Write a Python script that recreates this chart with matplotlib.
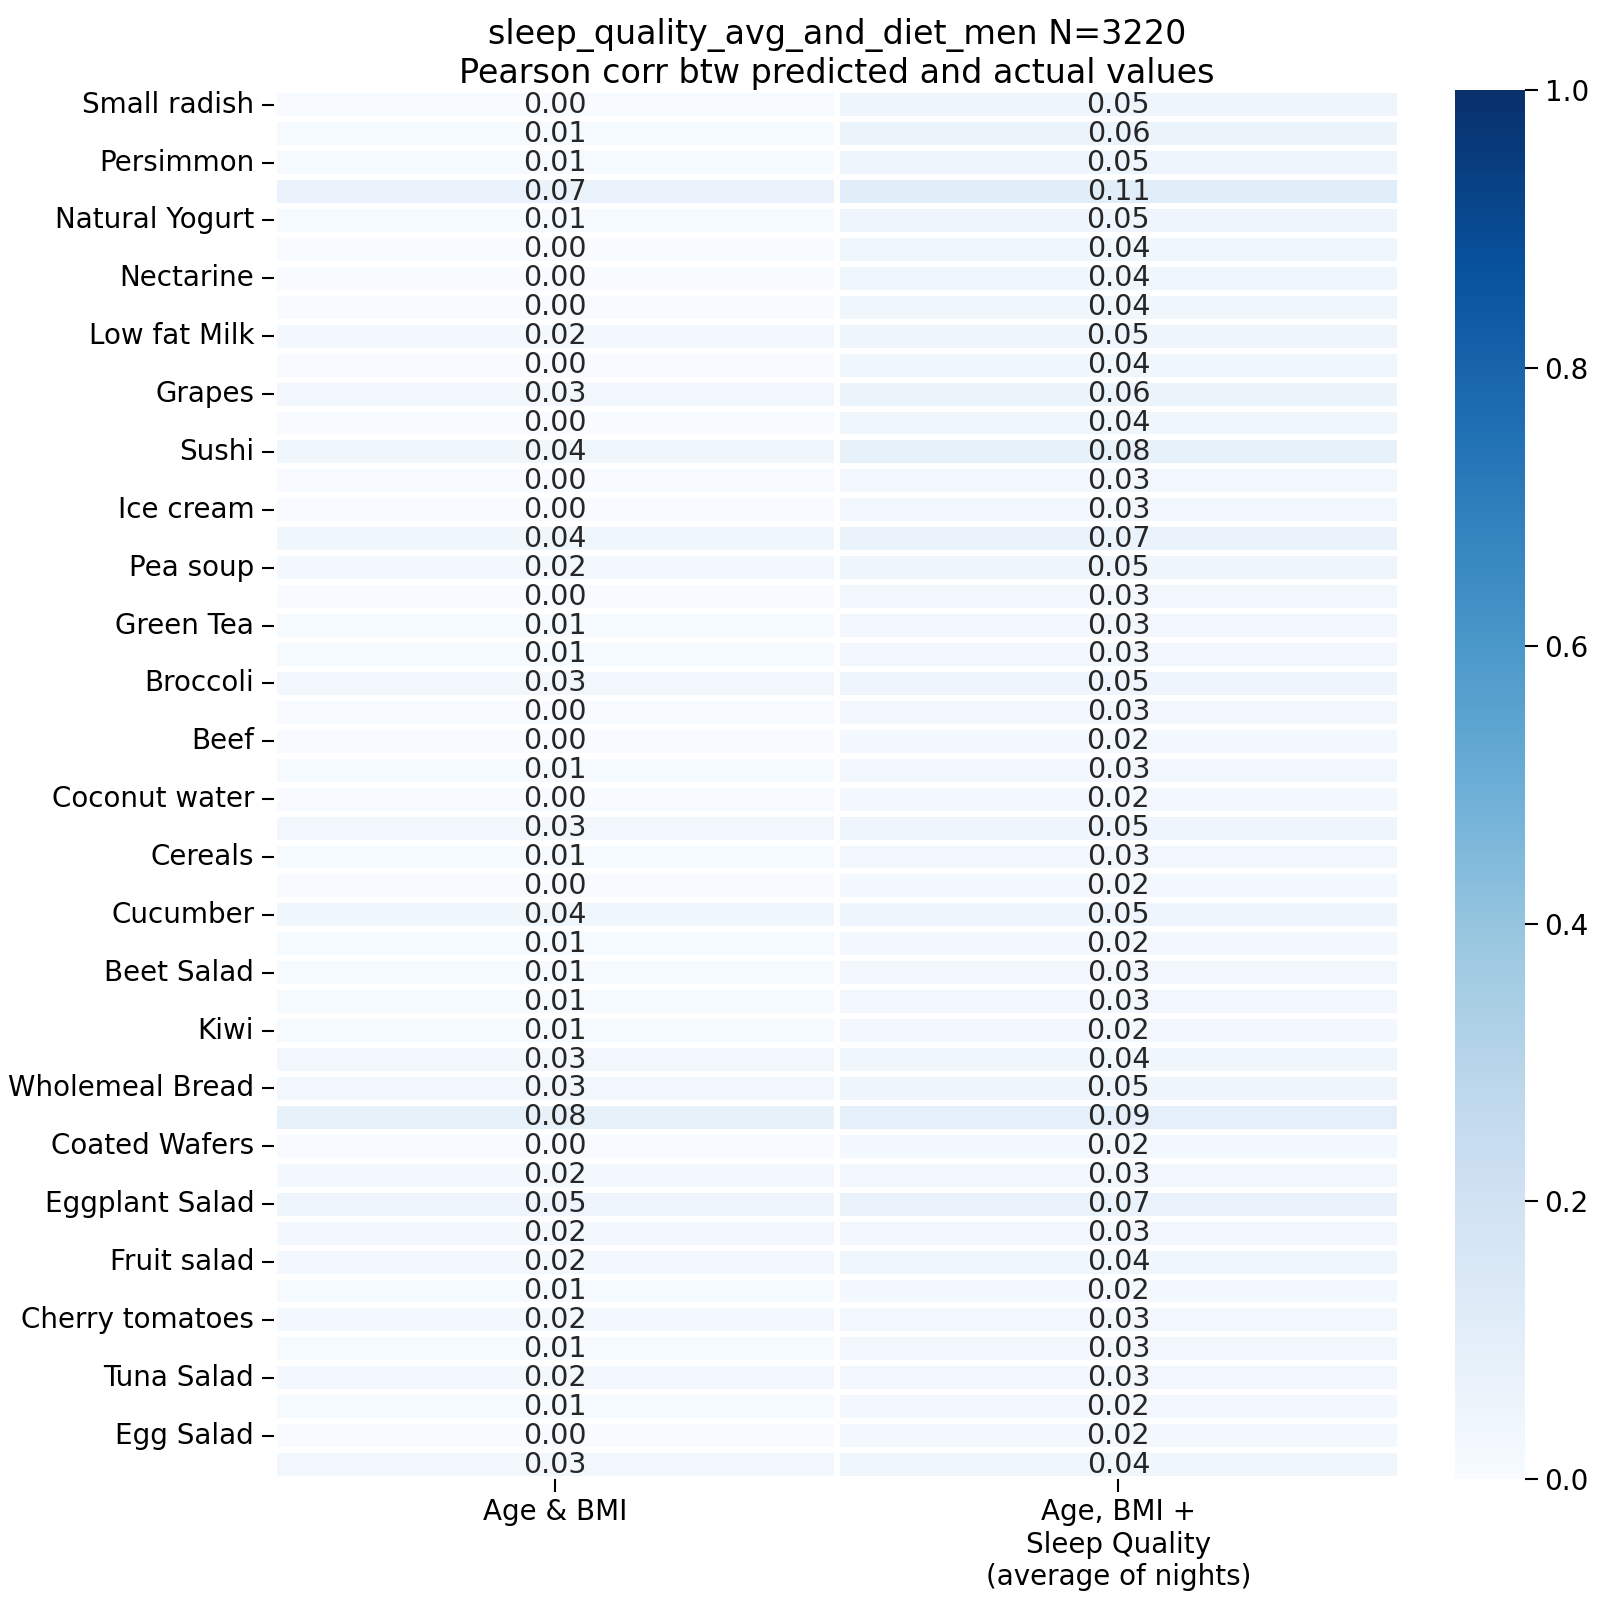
import numpy as np
import pandas as pd
import matplotlib
matplotlib.use("Agg")
import matplotlib.pyplot as plt
import seaborn as sns

# =========================================================
# DATA
# =========================================================

row_labels = [
    "Small radish", "Persimmon", "Natural Yogurt", "Nectarine", "Low fat Milk",
    "Grapes", "Sushi", "Ice cream", "Pea soup", "Green Tea", "Broccoli", "Beef",
    "Coconut water", "Cereals", "Cucumber", "Beet Salad", "Kiwi",
    "Wholemeal Bread", "Coated Wafers", "Eggplant Salad", "Fruit salad",
    "Cherry tomatoes", "Tuna Salad", "Egg Salad",
]  # only every second row is labelled in the figure

col_labels = ["Age & BMI", "Age, BMI +\nSleep Quality\n(average of nights)"]

age_bmi = [
    0.00, 0.01, 0.01, 0.07, 0.01, 0.00, 0.00, 0.00, 0.02, 0.00, 0.03, 0.00,
    0.04, 0.00, 0.00, 0.04, 0.02, 0.00, 0.01, 0.01, 0.03, 0.00, 0.00, 0.01,
    0.00, 0.03, 0.01, 0.00, 0.04, 0.01, 0.01, 0.01, 0.01, 0.03, 0.03, 0.08,
    0.00, 0.02, 0.05, 0.02, 0.02, 0.01, 0.02, 0.01, 0.02, 0.01, 0.00, 0.03,
]

age_bmi_sleep = [
    0.05, 0.06, 0.05, 0.11, 0.05, 0.04, 0.04, 0.04, 0.05, 0.04, 0.06, 0.04,
    0.08, 0.03, 0.03, 0.07, 0.05, 0.03, 0.03, 0.03, 0.05, 0.03, 0.02, 0.03,
    0.02, 0.05, 0.03, 0.02, 0.05, 0.02, 0.03, 0.03, 0.02, 0.04, 0.05, 0.09,
    0.02, 0.03, 0.07, 0.03, 0.04, 0.02, 0.03, 0.03, 0.03, 0.02, 0.02, 0.04,
]

title = "sleep_quality_avg_and_diet_men N=3220\nPearson corr btw predicted and actual values"

df = pd.DataFrame({col_labels[0]: age_bmi, col_labels[1]: age_bmi_sleep})

# =========================================================
# PLOT
# =========================================================

fs = 20.5
tick_fs = 20.0

fig = plt.figure(figsize=(16, 16), dpi=100)
ax = fig.add_axes([0.171, 0.0756, 0.704, 0.868])
cax = fig.add_axes([0.9094, 0.0756, 0.0438, 0.868])

sns.heatmap(
    df, ax=ax, cbar_ax=cax, cmap="Blues", vmin=0, vmax=1,
    annot=True, fmt=".2f", annot_kws={"fontsize": fs},
    linewidths=2.9, linecolor="white",
    xticklabels=col_labels, yticklabels=False,
)

ax.set_yticks(np.arange(0, len(age_bmi), 2) + 0.5)
ax.set_yticklabels(row_labels, rotation=0, fontsize=tick_fs, va="center")
ax.set_xticklabels(col_labels, rotation=0, fontsize=tick_fs)
ax.tick_params(axis="both", length=9, width=1.5, pad=5)
ax.set_title(title, fontsize=24, pad=5)

cax.tick_params(labelsize=tick_fs, length=9, width=1.5, pad=5)
cax.set_yticks([0.0, 0.2, 0.4, 0.6, 0.8, 1.0])

fig.savefig("out.png", dpi=100)
